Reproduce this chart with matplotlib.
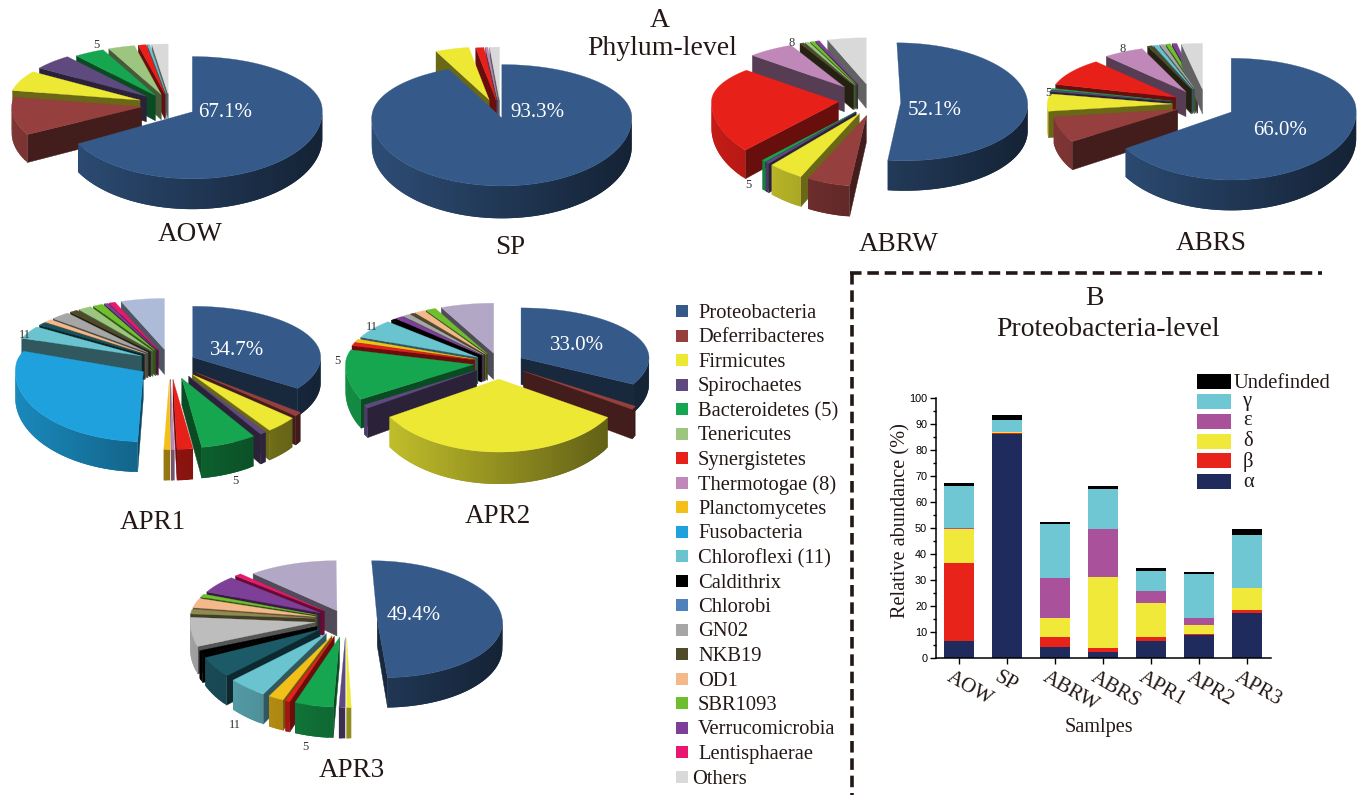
import numpy as np
import matplotlib
matplotlib.use('Agg')
import matplotlib.pyplot as plt
from matplotlib.patches import Rectangle
from matplotlib.transforms import ScaledTranslation

W, H = 1363, 795
SERIF = 'Liberation Serif'
SANS = 'Liberation Sans'
INK = '#231815'

# ---- data: phylum level -------------------------------------------------
phyla = ['Proteobacteria', 'Deferribacteres', 'Firmicutes', 'Spirochaetes', 'Bacteroidetes (5)',
         'Tenericutes', 'Synergistetes', 'Thermotogae (8)', 'Planctomycetes', 'Fusobacteria',
         'Chloroflexi (11)', 'Caldithrix', 'Chlorobi', 'GN02', 'NKB19', 'OD1', 'SBR1093',
         'Verrucomicrobia', 'Lentisphaerae', 'Others']
phyla_colors = ['#355a8a', '#953f3e', '#ece834', '#5f4a7f', '#17a650', '#9cc67f', '#e8201a', '#c088b8',
                '#f3bf19', '#1ea1dd', '#6ac4d0', '#000000', '#4f81bd', '#a6a6a6', '#4f4a2a', '#f3b98b',
                '#6fbe2e', '#7d3f98', '#e8186f', '#d9d9d9']

# index into phyla, then percent, clockwise from 12 o'clock
aow_idx = [0, 1, 2, 3, 4, 5, 6, 10, 19]
aow_val = [67.1, 11.0, 6.5, 5.0, 3.8, 3.3, 1.0, 0.3, 2.0]
sp_idx = [0, 2, 6, 7, 19]
sp_val = [93.3, 4.2, 1.0, 0.3, 1.2]
abrw_idx = [0, 1, 2, 3, 4, 6, 7, 14, 5, 16, 17, 19]
abrw_val = [52.1, 5.5, 4.5, 0.5, 0.5, 24.0, 6.0, 0.5, 0.5, 0.5, 0.5, 4.9]
abrs_idx = [0, 1, 2, 3, 4, 6, 7, 14, 10, 13, 16, 17, 19]
abrs_val = [66.0, 7.0, 5.5, 0.5, 0.5, 9.5, 5.3, 0.6, 0.6, 0.6, 0.6, 0.6, 2.7]
apr1_idx = [0, 1, 2, 3, 4, 6, 7, 8, 9, 10, 12, 15, 13, 14, 5, 16, 17, 18, 19]
apr1_val = [34.7, 1.0, 4.0, 0.8, 7.0, 2.0, 0.4, 0.8, 30.0, 4.0, 1.0, 1.0, 2.5, 1.0, 1.7, 1.3, 0.5, 0.8, 5.5]
apr2_idx = [0, 1, 2, 3, 4, 6, 8, 10, 11, 17, 13, 14, 15, 16, 19]
apr2_val = [33.0, 0.8, 32.5, 0.8, 12.5, 1.0, 1.0, 6.0, 0.6, 1.0, 1.0, 0.5, 1.3, 1.3, 6.7]
apr3_idx = [0, 2, 3, 4, 6, 8, 10, 12, 11, 13, 14, 15, 16, 17, 18, 19]
apr3_val = [49.4, 0.6, 0.8, 5.0, 0.6, 2.0, 5.0, 5.0, 1.0, 7.0, 1.5, 3.0, 1.0, 5.5, 0.9, 11.6]

# ---- data: proteobacteria level ------------------------------------------
samples = ['AOW', 'SP', 'ABRW', 'ABRS', 'APR1', 'APR2', 'APR3']
alpha = [6.5, 86.3, 4.3, 2.2, 6.6, 8.9, 17.1]
beta = [29.8, 0.2, 3.7, 1.6, 1.5, 0.3, 1.1]
delta = [13.2, 0.5, 7.4, 27.2, 13.1, 3.3, 8.8]
epsilon = [0.3, 0.0, 15.4, 18.7, 4.6, 2.8, 0.0]
gamma = [16.5, 4.6, 20.5, 15.3, 7.6, 17.1, 20.4]
undefined = [0.8, 1.7, 0.8, 1.0, 1.3, 0.6, 2.0]
class_colors = ['#1e2b5c', '#e8231a', '#f1e93a', '#a9519a', '#6fc7d4', '#000000']
legend_names = ['Undefinded', 'γ', 'ε', 'δ', 'β', 'α']


def darker(color, f):
    return tuple(min(1, c * f) for c in matplotlib.colors.to_rgb(color))


def draw_pie(ax, idx, val, expl, cx, cy, rx, far, near, depth, first=None, override=None):
    """fake 3D exploded pie, centre in pixels, clockwise from the top.
    first holds far/near/shear for the big first slice"""
    override = override or {}
    first = first or {}

    def proj(x, y, k, z=0.0):
        f = first.get('far', far) if k == 0 else far
        n = first.get('near', near) if k == 0 else near
        sh = first.get('shear', 0.0) if k == 0 else 0.0
        py = cy - y * np.where(y > 0, f, n)
        return cx + rx * (x + sh * y), py + z * depth * (1 - 0.15 * y)

    edges = np.cumsum([0] + list(val)) / 100 * 2 * np.pi
    order = []
    for k in range(len(val)):
        mid = (edges[k] + edges[k + 1]) / 2
        order.append(((expl[k] + 0.5) * np.cos(mid), k))
    for _, k in sorted(order, reverse=True):
        t0, t1 = edges[k], edges[k + 1]
        mid = (t0 + t1) / 2
        ex, ey = expl[k] * np.sin(mid), expl[k] * np.cos(mid)
        col = override.get(idx[k], phyla_colors[idx[k]])
        th = np.linspace(t0, t1, max(3, int(np.degrees(t1 - t0) / 2) + 2))
        x, y = ex + np.sin(th), ey + np.cos(th)
        wall = darker(col, 0.45)
        for t, vis in ((t0, np.sin(t0) < -1e-6), (t1, np.sin(t1) > 1e-6)):
            if vis:
                e = np.array([ex, ex + np.sin(t)])
                f = np.array([ey, ey + np.cos(t)])
                px, py = proj(e, f, k)
                qx, qy = proj(e, f, k, 1.0)
                ax.fill([px[0], px[1], qx[1], qx[0]], [py[0], py[1], qy[1], qy[0]],
                        fc=wall, ec=wall, lw=0.3, zorder=2)
        # rim, each piece runs over the next one so no seams show
        for i in range(len(th) - 1):
            tm = (th[i] + th[i + 1]) / 2
            if np.cos(tm) > 0.02:
                continue
            shade = 0.85 - 0.47 * (np.sin(tm) + 1) / 2
            c = darker(col, shade)
            j = min(i + 3, len(th))
            px, py = proj(x[i:j], y[i:j], k)
            qx, qy = proj(x[i:j], y[i:j], k, 1.0)
            ax.fill(np.r_[px, qx[::-1]], np.r_[py, qy[::-1]], fc=c, ec='none', zorder=2)
        px, py = proj(np.r_[ex, x], np.r_[ey, y], k)
        ax.fill(px, py, fc=col, ec=col, lw=0.2, zorder=2)


plt.rcParams['font.family'] = [SERIF, 'DejaVu Serif']
fig = plt.figure(figsize=(W / 100, H / 100), dpi=100)
ax = fig.add_axes([0, 0, 1, 1])
ax.set_xlim(0, W)
ax.set_ylim(H, 0)
ax.axis('off')


def label(x, y, s, **kw):
    # text sits a bit high with va=center
    kw.setdefault('ha', 'center')
    kw.setdefault('color', INK)
    ax.text(x, y + 2.5, s, va='center', zorder=5, **kw)


LAVENDER = '#b3a7c6'
draw_pie(ax, aow_idx, aow_val, [.2, .22, .25, .25, .22, .22, .22, .22, .22],
         170, 105, 130, 50, 58, 26, first={'far': 54, 'near': 67})
draw_pie(ax, sp_idx, sp_val, [.03, .32, .3, .3, .3], 501, 116, 130, 53, 68, 28)
draw_pie(ax, abrw_idx, abrw_val, [.21, .2, .2, .2, .2, .28, .4, .4, .4, .4, .4, .4],
         874, 102, 127, 46, 71, 26, first={'far': 60, 'near': 58, 'shear': -0.03})
draw_pie(ax, abrs_idx, abrs_val, [.23, .24, .27, .28, .28, .29, .32, .35, .35, .35, .35, .35, .33],
         1206, 104.5, 125, 46, 60, 26, first={'far': 52, 'near': 68})
draw_pie(ax, apr1_idx, apr1_val, [.2] + [.25] * 18, 170, 362, 128, 51, 70, 26,
         first={'near': 55}, override={19: '#aebbd8', 12: '#14525c'})
draw_pie(ax, apr2_idx, apr2_val, [.2, .22, .22] + [.2] * 12, 499, 363, 128, 50, 73, 27,
         first={'near': 56}, override={19: LAVENDER})
draw_pie(ax, apr3_idx, apr3_val, [.25] + [.25] * 14 + [.2], 346, 620, 125, 50, 70, 26,
         first={'far': 59, 'near': 58, 'shear': -0.045},
         override={19: LAVENDER, 12: '#1d5a68', 13: '#bdbdbd', 14: '#8f8a50'})

# titles
label(660, 18, 'A', fontsize=20)
label(662, 46, 'Phylum-level', fontsize=20)
label(1094, 296, 'B', fontsize=20)
label(1108, 327, 'Proteobacteria-level', fontsize=20)

pie_names = [('AOW', 190, 232), ('SP', 510, 245), ('ABRW', 899, 242), ('ABRS', 1211, 241),
             ('APR1', 153, 520), ('APR2', 498, 514), ('APR3', 352, 768)]
for s, x, y in pie_names:
    label(x, y, s, fontsize=19.5)

pct_labels = [('67.1%', 225, 110), ('93.3%', 537, 110), ('52.1%', 935, 108), ('66.0%', 1280, 128),
              ('34.7%', 237, 348), ('33.0%', 577, 343), ('49.4%', 414, 613)]
for s, x, y in pct_labels:
    label(x, y, s, fontsize=15, color='white')

small_labels = [('5', 96, 42), ('8', 792, 41), ('5', 748, 183), ('8', 1123, 47), ('5', 1048, 90),
                ('11', 25, 332), ('5', 235, 478), ('11', 372, 325), ('5', 337, 359),
                ('11', 235, 723), ('5', 305, 744)]
for s, x, y in small_labels:
    label(x, y, s, fontsize=9, color='#333333')

# phylum legend
for i, name in enumerate(phyla):
    y = 311 + 24.5 * i
    ax.add_patch(Rectangle((676, y - 6), 12, 12, fc=phyla_colors[i], ec='none'))
    label(692 if name == 'Others' else 698, y, name, fontsize=14.8, ha='left')

# dashed frame round panel B
ax.plot([850, 1322], [273, 273], color=INK, lw=2.6, dashes=(3.2, 1.6))
ax.plot([851.5, 851.5], [273, 795], color=INK, lw=2.6, dashes=(3.2, 1.6))

# panel B, real axes
bx = fig.add_axes([935.5 / W, 1 - 657.7 / H, (1270.6 - 935.5) / W, (657.7 - 398) / H])
bx.patch.set_alpha(0)
pos = np.arange(len(samples))
bottom = np.zeros(len(samples))
for vals, c in zip([alpha, beta, delta, epsilon, gamma, undefined], class_colors):
    bx.bar(pos, vals, 0.62, bottom=bottom, color=c)
    bottom += np.array(vals)
bx.set_xlim(-0.49, 6.49)
bx.set_ylim(0, 100)
bx.spines['top'].set_visible(False)
bx.spines['right'].set_visible(False)
bx.spines['left'].set_linewidth(1.1)
bx.spines['bottom'].set_linewidth(1.1)
bx.set_yticks(np.arange(0, 101, 10))
bx.set_yticks(np.arange(5, 100, 10), minor=True)
bx.tick_params(axis='y', which='major', length=4, width=1, pad=2)
bx.tick_params(axis='y', which='minor', length=2.2, width=1)
bx.tick_params(axis='x', length=4, width=1, pad=3)
for t in bx.get_yticklabels():
    t.set_fontfamily(SANS)
    t.set_fontsize(7.8)
bx.set_xticks(pos)
bx.set_xticklabels(samples, rotation=-30, ha='left', rotation_mode='anchor', fontsize=15, color=INK)
shift = ScaledTranslation(-6 / 100, 0, fig.dpi_scale_trans)
for t in bx.get_xticklabels():
    t.set_transform(t.get_transform() + shift)
ax.text(901, 521, 'Relative abundance (%)', fontsize=14.6, rotation=90, ha='center', va='center',
        color=INK, rotation_mode='anchor')
label(1099, 725, 'Samlpes', fontsize=14.6)

# panel B legend
swatch_y = [381, 401, 421, 441, 460.5, 481]
text_y = [381, 399, 418, 439, 459, 480]
for y, ty, name, c in zip(swatch_y, text_y, legend_names, class_colors[::-1]):
    ax.add_patch(Rectangle((1197, y - 7.5), 34, 15, fc=c, ec='none'))
    label(1234 if name == 'Undefinded' else 1243, ty, name, fontsize=14.8, ha='left')

fig.savefig('out.png', dpi=100)
